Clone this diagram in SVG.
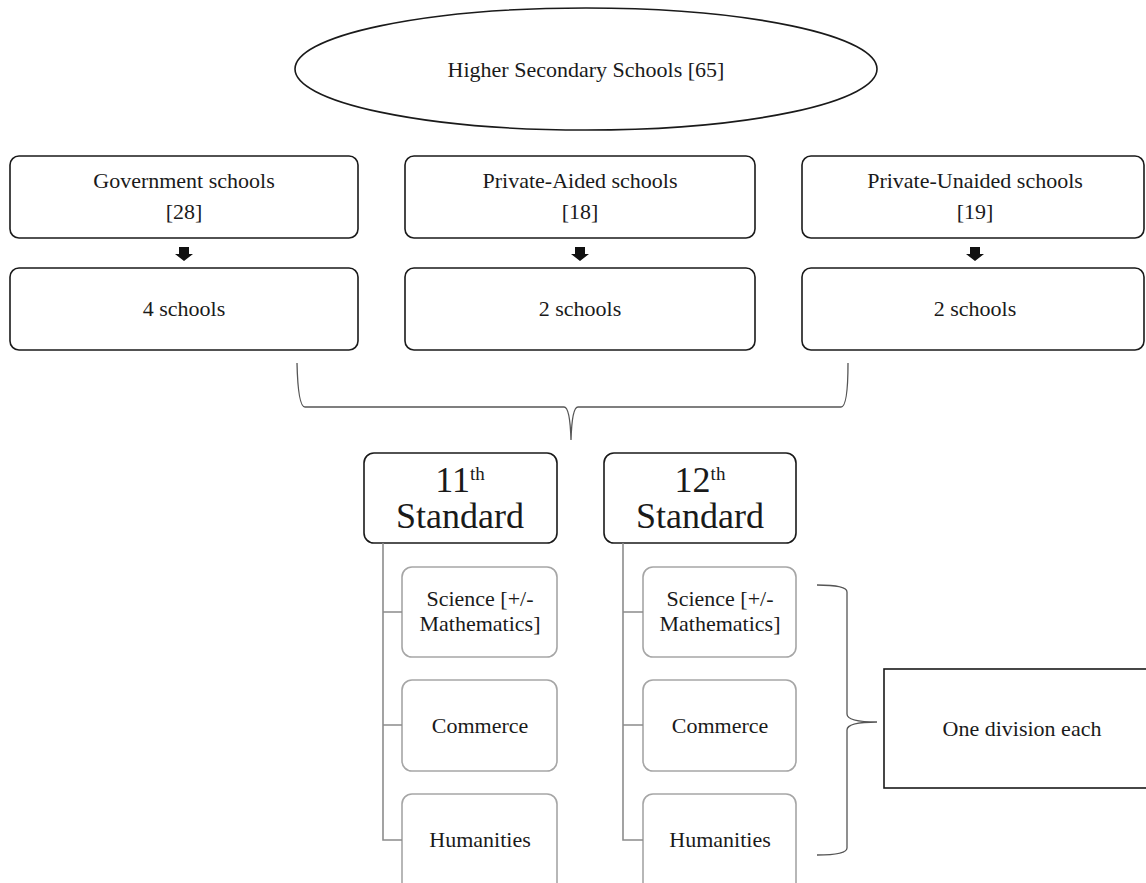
<svg xmlns="http://www.w3.org/2000/svg" width="1146" height="883" viewBox="0 0 1146 883">
<style>
text{font-family:"Liberation Serif","Times New Roman",serif;fill:#1a1a1a;text-anchor:middle}
.t{font-size:22px}
.big{font-size:36px}
.sup{font-size:19px}
.b{fill:#fff;stroke:#1a1a1a;stroke-width:1.6}
.g{fill:#fff;stroke:#a6a6a6;stroke-width:1.6}
.c{fill:none;stroke:#8c8c8c;stroke-width:1.6}
.br{fill:none;stroke:#555;stroke-width:1.3}
.ar{fill:#111}
</style>
<rect width="1146" height="883" fill="#fff"/>
<g id="root"><ellipse class="b" cx="586" cy="69" rx="291" ry="61"/><text class="t" x="586" y="77">Higher Secondary Schools [65]</text></g>
<g id="gov"><rect class="b" x="10" y="156" width="348" height="82" rx="9"/><text class="t" x="184" y="188">Government schools</text><text class="t" x="184" y="219">[28]</text></g>
<g id="aided"><rect class="b" x="405" y="156" width="350" height="82" rx="9"/><text class="t" x="580" y="188">Private-Aided schools</text><text class="t" x="580" y="219">[18]</text></g>
<g id="unaided"><rect class="b" x="802" y="156" width="342" height="82" rx="9"/><text class="t" x="975" y="188">Private-Unaided schools</text><text class="t" x="975" y="219">[19]</text></g>
<g id="gov4"><rect class="b" x="10" y="268" width="348" height="82" rx="9"/><text class="t" x="184" y="316">4 schools</text></g>
<g id="aided2"><rect class="b" x="405" y="268" width="350" height="82" rx="9"/><text class="t" x="580" y="316">2 schools</text></g>
<g id="unaided2"><rect class="b" x="802" y="268" width="342" height="82" rx="9"/><text class="t" x="975" y="316">2 schools</text></g>
<g id="std11"><rect class="b" x="364" y="453" width="193" height="90" rx="10"/><text x="460" y="492"><tspan class="big">11</tspan><tspan class="sup" dy="-12">th</tspan></text><text class="big" x="460" y="528">Standard</text></g>
<g id="std12"><rect class="b" x="604" y="453" width="192" height="90" rx="10"/><text x="700" y="492"><tspan class="big">12</tspan><tspan class="sup" dy="-12">th</tspan></text><text class="big" x="700" y="528">Standard</text></g>
<g id="sci11"><rect class="g" x="402" y="567" width="155" height="90" rx="10"/><text class="t" x="480" y="606">Science [+/-</text><text class="t" x="480" y="631">Mathematics]</text></g>
<g id="com11"><rect class="g" x="402" y="680" width="155" height="91" rx="10"/><text class="t" x="480" y="733">Commerce</text></g>
<g id="hum11"><rect class="g" x="402" y="794" width="155" height="100" rx="10"/><text class="t" x="480" y="847">Humanities</text></g>
<g id="sci12"><rect class="g" x="643" y="567" width="153" height="90" rx="10"/><text class="t" x="720" y="606">Science [+/-</text><text class="t" x="720" y="631">Mathematics]</text></g>
<g id="com12"><rect class="g" x="643" y="680" width="153" height="91" rx="10"/><text class="t" x="720" y="733">Commerce</text></g>
<g id="hum12"><rect class="g" x="643" y="794" width="153" height="100" rx="10"/><text class="t" x="720" y="847">Humanities</text></g>
<g id="division"><rect x="884" y="669" width="270" height="119" fill="#fff" stroke="#1a1a1a" stroke-width="1.6"/><text class="t" x="1022" y="736">One division each</text></g>
<g id="connectors">
<path class="ar" d="M179,247h10v7h4l-9,7l-9,-7h4z"/>
<path class="ar" d="M575,247h10v7h4l-9,7l-9,-7h4z"/>
<path class="ar" d="M970,247h10v7h4l-9,7l-9,-7h4z"/>
<path class="br" d="M297,363 Q298,407 305,407 H564 Q570,407 571,440 Q572,407 578,407 H841 Q848,407 848,363"/>
<path class="c" d="M383,543 V840 H402 M383,612 H402 M383,725 H402"/>
<path class="c" d="M623,543 V840 H643 M623,612 H643 M623,725 H643"/>
<path class="br" d="M817,585 Q847,585 847,592 V714 Q847,722 877,722 Q847,722 847,730 V848 Q847,855 817,855"/>
</g>
</svg>
